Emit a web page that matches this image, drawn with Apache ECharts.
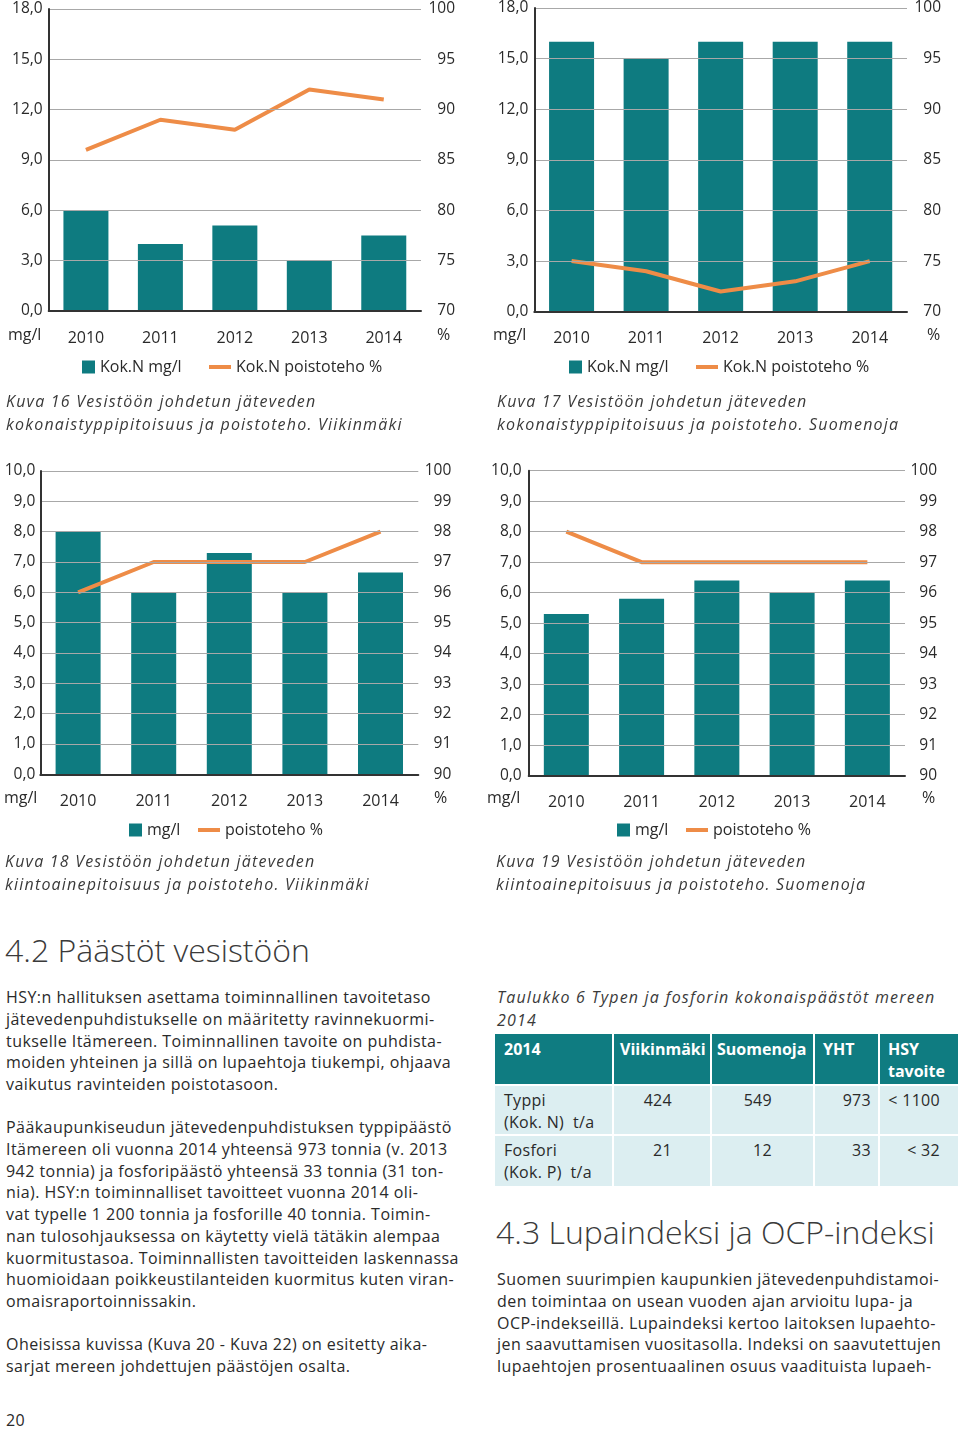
<!DOCTYPE html>
<html><head><meta charset="utf-8">
<script src="https://cdn.jsdelivr.net/npm/echarts@6/dist/echarts.min.js"></script>
<style>
html,body{margin:0;padding:0;background:#fff;}
#page{position:relative;width:960px;height:1432px;overflow:hidden;font-family:"Open Sans",sans-serif;color:#2a2a2a;}
#chart{position:absolute;left:0;top:0;width:960px;height:900px;}
.t{position:absolute;white-space:nowrap;}
.cap{font-style:italic;font-size:16px;letter-spacing:1.2px;line-height:22.5px;color:#3a3a3a;}
.body{font-size:16px;letter-spacing:0.45px;line-height:21.75px;color:#2a2a2a;}
.h{font-size:32px;font-weight:300;color:#3a3a3a;line-height:40px;}
table.tb{position:absolute;left:495px;top:1034px;border-collapse:separate;border-spacing:2px 2px;margin:-2px;font-size:16px;letter-spacing:0.3px;color:#2a2a2a;}
table.tb td{padding:0;vertical-align:top;line-height:21.5px;}
</style></head>
<body><div id="page">
<div id="chart"></div>
</div>
<script>
// ---- data ----
const years = ['2010','2011','2012','2013','2014'];
const kokNViikMg = [6.0, 4.0, 5.1, 3.0, 4.5];
const kokNViikPct = [86, 89, 88, 92, 91];
const kokNSuomMg = [16, 15, 16, 16, 16];
const kokNSuomPct = [75, 74, 72, 73, 75];
const ssViikMg = [8.0, 6.0, 7.3, 6.0, 6.65];
const ssViikPct = [96, 97, 97, 97, 98];
const ssSuomMg = [5.3, 5.8, 6.4, 6.0, 6.4];
const ssSuomPct = [98, 97, 97, 97, 97];
const tableHead = ['2014', 'Viikinmäki', 'Suomenoja', 'YHT', 'HSY<br>tavoite'];
const tableRowLabels = ['Typpi<br>(Kok. N)&nbsp; t/a', 'Fosfori<br>(Kok. P)&nbsp; t/a'];
const tableViik = [424, 21];
const tableSuom = [549, 12];
const tableYht = [973, 33];
const tableHsy = ['< 1100', '< 32'];

const TEAL = '#0E7B80', ORANGE = '#EE8C47', FONT = '"Open Sans", sans-serif', TXT = '#2a2a2a';

const panels = [
  {grid:{left:48.7, top:9, width:372.3, height:302}, mg:kokNViikMg, pct:kokNViikPct,
   lmax:18, lint:3, rmin:70, rmax:100, rint:5, barName:'Kok.N mg/l', lineName:'Kok.N poistoteho %',
   lm:6, rm:34, unitX:8, pctX:437, unitY:338, legY:369, legBar:82, legLine:209},
  {grid:{left:534.3, top:7.3, width:372.7, height:304.4}, mg:kokNSuomMg, pct:kokNSuomPct,
   lmax:18, lint:3, rmin:70, rmax:100, rint:5, barName:'Kok.N mg/l ', lineName:'Kok.N poistoteho % ',
   lm:6, rm:34, unitX:493, pctX:927, unitY:338, legY:369, legBar:569, legLine:696},
  {grid:{left:40.3, top:471, width:378, height:303.3}, mg:ssViikMg, pct:ssViikPct,
   lmax:10, lint:1, rmin:90, rmax:100, rint:1, barName:'mg/l', lineName:'poistoteho %',
   lm:5, rm:33, unitX:4, pctX:434, unitY:801, legY:832, legBar:129, legLine:198},
  {grid:{left:528.7, top:470.7, width:376.3, height:305}, mg:ssSuomMg, pct:ssSuomPct,
   lmax:10, lint:1, rmin:90, rmax:100, rint:1, barName:'mg/l ', lineName:'poistoteho % ',
   lm:7, rm:32, unitX:487, pctX:922, unitY:801, legY:832, legBar:617, legLine:686}
];

const option = {animation:false, grid:[], xAxis:[], yAxis:[], series:[], legend:[], graphic:[]};
panels.forEach((p, i) => {
  option.grid.push(Object.assign({containLabel:false}, p.grid));
  option.xAxis.push({type:'category', gridIndex:i, data:years,
    axisLine:{show:true, lineStyle:{color:'#333', width:2}}, axisTick:{show:false},
    axisLabel:{margin:19, fontSize:16, color:TXT, fontFamily:FONT}, z:5});
  option.yAxis.push({type:'value', gridIndex:i, min:0, max:p.lmax, interval:p.lint,
    axisLine:{show:true, lineStyle:{color:'#333', width:2}}, axisTick:{show:false},
    splitLine:{show:true, lineStyle:{color:'#a8a8a8', width:1}},
    axisLabel:{margin:p.lm, fontSize:15.5, color:TXT, fontFamily:FONT,
      formatter: v => v.toFixed(1).replace('.', ',')}, z:5});
  option.yAxis.push({type:'value', gridIndex:i, position:'right', min:p.rmin, max:p.rmax, interval:p.rint,
    axisLine:{show:false}, axisTick:{show:false}, splitLine:{show:false},
    axisLabel:{margin:p.rm, align:'right', fontSize:15.5, color:TXT, fontFamily:FONT}});
  option.series.push({type:'bar', name:p.barName, xAxisIndex:i, yAxisIndex:2*i, data:p.mg,
    barWidth:45, itemStyle:{color:TEAL}, z:2});
  option.series.push({type:'line', name:p.lineName, xAxisIndex:i, yAxisIndex:2*i+1, data:p.pct,
    symbol:'none', lineStyle:{color:ORANGE, width:4}, itemStyle:{color:ORANGE}, z:4});
  option.legend.push({data:[{name:p.barName, icon:'rect'}], left:p.legBar, top:p.legY - 10,
    itemWidth:13, itemHeight:13, itemGap:0, selectedMode:false, padding:0,
    textStyle:{fontSize:16, color:TXT, fontFamily:FONT}});
  option.legend.push({data:[{name:p.lineName, icon:'path://M0,0H22V4H0Z', itemStyle:{color:ORANGE}}],
    left:p.legLine, top:p.legY - 10,
    itemWidth:22, itemHeight:4, itemGap:0, selectedMode:false, padding:0,
    textStyle:{fontSize:16, color:TXT, fontFamily:FONT}});
  option.graphic.push({type:'text', left:p.unitX, top:p.unitY - 11,
    style:{text:'mg/l', fontSize:16, fill:TXT, fontFamily:FONT}});
  option.graphic.push({type:'text', left:p.pctX, top:p.unitY - 11,
    style:{text:'%', fontSize:16, fill:TXT, fontFamily:FONT}});
});

const chart = echarts.init(document.getElementById('chart'), null, {renderer:'canvas'});
chart.setOption(option);

// ---- text ----
const page = document.getElementById('page');
function addText(cls, x, y, html){
  const d = document.createElement('div');
  d.className = 't ' + cls;
  d.style.left = x + 'px'; d.style.top = y + 'px';
  d.innerHTML = html;
  page.appendChild(d);
}
addText('cap', 6, 390, 'Kuva 16 Vesistöön johdetun jäteveden<br>kokonaistyppipitoisuus ja poistoteho. Viikinmäki');
addText('cap', 497, 390, 'Kuva 17 Vesistöön johdetun jäteveden<br>kokonaistyppipitoisuus ja poistoteho. Suomenoja');
addText('cap', 5, 850, 'Kuva 18 Vesistöön johdetun jäteveden<br>kiintoainepitoisuus ja poistoteho. Viikinmäki');
addText('cap', 496, 850, 'Kuva 19 Vesistöön johdetun jäteveden<br>kiintoainepitoisuus ja poistoteho. Suomenoja');
addText('h', 5, 930, '4.2 Päästöt vesistöön');
addText('h', 496, 1212, '4.3 Lupaindeksi ja OCP-indeksi');
addText('body', 6, 987, ['HSY:n hallituksen asettama toiminnallinen tavoitetaso',
 'jätevedenpuhdistukselle on määritetty ravinnekuormi-',
 'tukselle Itämereen. Toiminnallinen tavoite on puhdista-',
 'moiden yhteinen ja sillä on lupaehtoja tiukempi, ohjaava',
 'vaikutus ravinteiden poistotasoon.'].join('<br>'));
addText('body', 6, 1117, ['Pääkaupunkiseudun jätevedenpuhdistuksen typpipäästö',
 'Itämereen oli vuonna 2014 yhteensä 973 tonnia (v. 2013',
 '942 tonnia) ja fosforipäästö yhteensä 33 tonnia (31 ton-',
 'nia). HSY:n toiminnalliset tavoitteet vuonna 2014 oli-',
 'vat typelle 1 200 tonnia ja fosforille 40 tonnia. Toimin-',
 'nan tulosohjauksessa on käytetty vielä tätäkin alempaa',
 'kuormitustasoa. Toiminnallisten tavoitteiden laskennassa',
 'huomioidaan poikkeustilanteiden kuormitus kuten viran-',
 'omaisraportoinnissakin.'].join('<br>'));
addText('body', 6, 1334, ['Oheisissa kuvissa (Kuva 20 - Kuva 22) on esitetty aika-',
 'sarjat mereen johdettujen päästöjen osalta.'].join('<br>'));
addText('body', 6, 1410, '20');
addText('cap', 497, 986, 'Taulukko 6 Typen ja fosforin kokonaispäästöt mereen<br>2014');
addText('body', 497, 1269, ['Suomen suurimpien kaupunkien jätevedenpuhdistamoi-',
 'den toimintaa on usean vuoden ajan arvioitu lupa- ja',
 'OCP-indekseillä. Lupaindeksi kertoo laitoksen lupaehto-',
 'jen saavuttamisen vuositasolla. Indeksi on saavutettujen',
 'lupaehtojen prosentuaalinen osuus vaadituista lupaeh-'].join('<br>'));

// table
const colW = [117, 96, 101, 63, 78];
let html = '<table class="tb"><tr>';
tableHead.forEach((h, i) => {
  html += `<td style="width:${colW[i]}px;height:50px;background:#0F7C81;color:#fff;font-weight:700;letter-spacing:0;padding:5px 0 0 ${[9,6,5,8,8][i]}px;box-sizing:border-box">${h}</td>`;
});
html += '</tr>';
tableRowLabels.forEach((lab, r) => {
  const cell = 'background:#DCEEF1;box-sizing:border-box;padding-top:4px;height:' + (r===0?48:50) + 'px;';
  html += '<tr>';
  html += `<td style="${cell}padding-left:9px">${lab}</td>`;
  html += `<td style="${cell}text-align:right;padding-right:38px">${tableViik[r]}</td>`;
  html += `<td style="${cell}text-align:right;padding-right:41px">${tableSuom[r]}</td>`;
  html += `<td style="${cell}text-align:right;padding-right:7px">${tableYht[r]}</td>`;
  html += `<td style="${cell}text-align:right;padding-right:18px">${tableHsy[r].replace('<','&lt;')}</td>`;
  html += '</tr>';
});
html += '</table>';
page.insertAdjacentHTML('beforeend', html);
</script>
</body></html>
